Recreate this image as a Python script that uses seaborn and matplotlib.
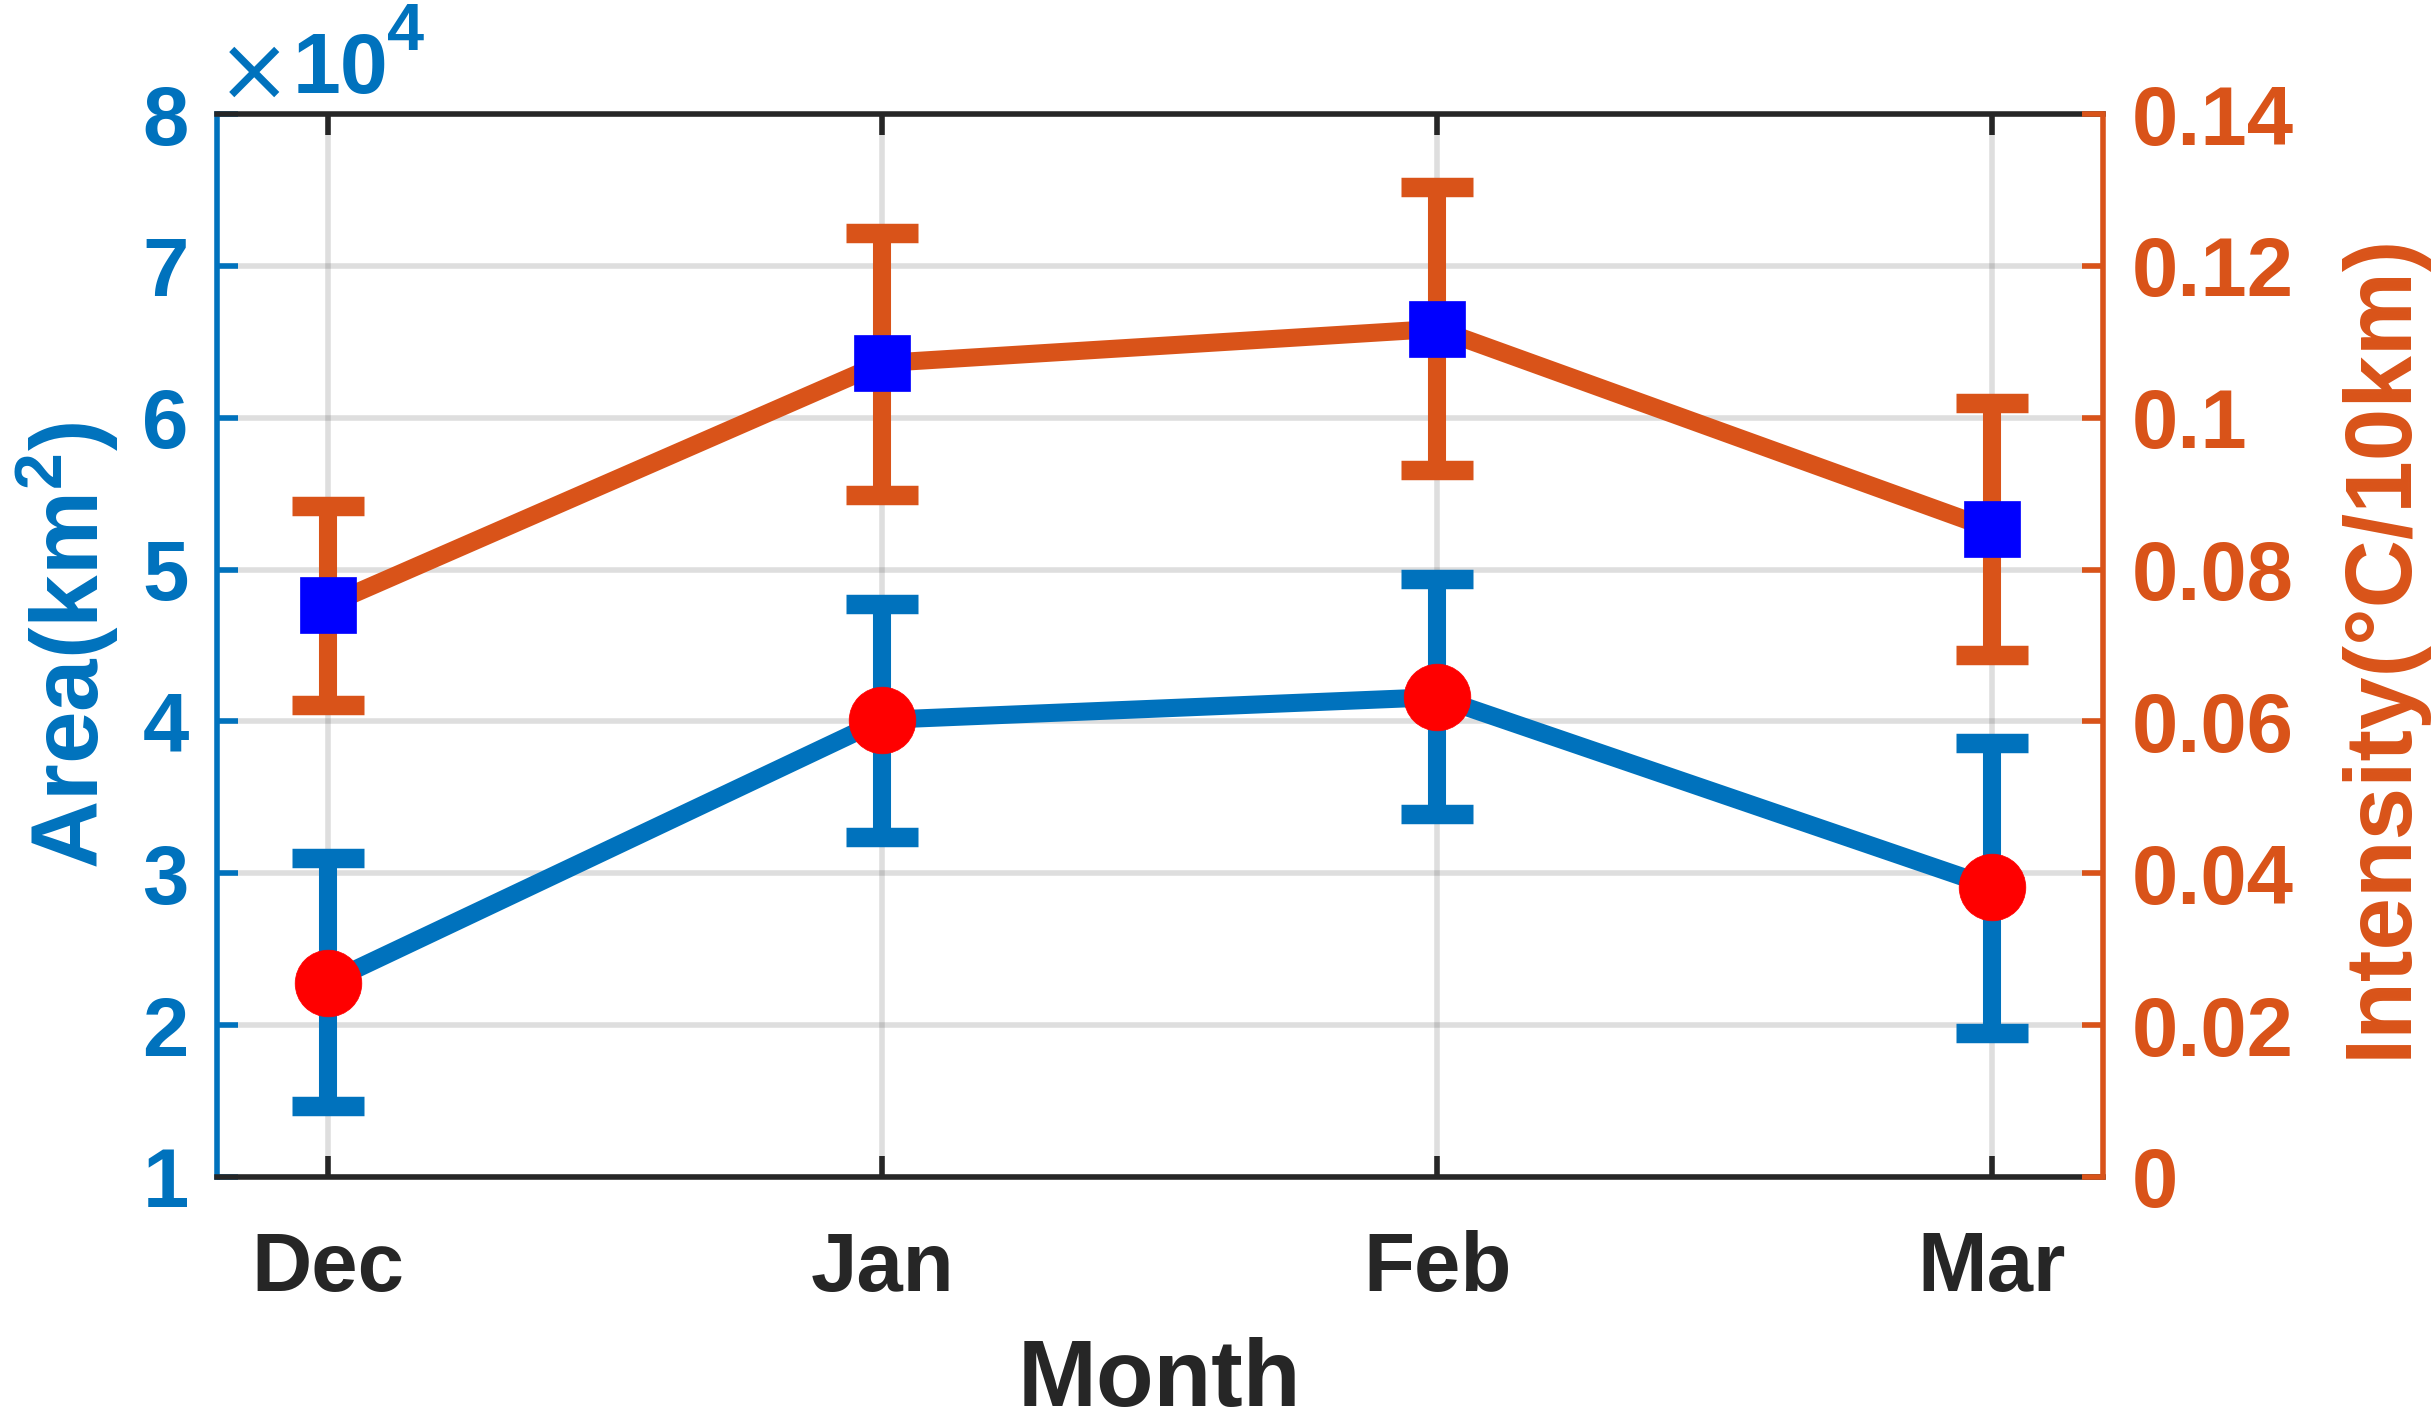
"""
Monthly area / intensity with error bars on twin y axes.
"""

import numpy as np
import matplotlib
matplotlib.use("Agg")
import matplotlib.pyplot as plt
import seaborn as sns
from matplotlib.ticker import FuncFormatter

# data
months = ["Dec", "Jan", "Feb", "Mar"]
area = [22800, 40100, 41600, 29100]          # km^2
area_lo = [14700, 32400, 33900, 19500]
area_hi = [31000, 47700, 49400, 38600]
intensity = [0.0753, 0.1072, 0.1117, 0.0853]  # degC / 10 km
intensity_lo = [0.0622, 0.0898, 0.0931, 0.0688]
intensity_hi = [0.0884, 0.1243, 0.1304, 0.1019]

area_ticks = [10000, 20000, 30000, 40000, 50000, 60000, 70000, 80000]
intensity_ticks = [0, 0.02, 0.04, 0.06, 0.08, 0.10, 0.12, 0.14]

BLUE = "#0072BD"
ORANGE = "#D95319"
DARK = "#262626"

sns.set_theme(style="white")
plt.rcParams["font.family"] = ["Liberation Sans", "DejaVu Sans"]
plt.rcParams["font.weight"] = "bold"
plt.rcParams["mathtext.fontset"] = "custom"
plt.rcParams["mathtext.rm"] = "Liberation Sans"
plt.rcParams["mathtext.bf"] = "Liberation Sans:bold"

TICK_FS = 60
LABEL_FS = 68
LW = 13

x = np.arange(len(months))

fig = plt.figure(figsize=(24.36, 14.18), dpi=100)
ax1 = fig.add_axes([0.0889, 0.1700, 0.7744, 0.7496])
ax2 = ax1.twinx()

# Area (left axis)
area_err = [np.array(area) - np.array(area_lo), np.array(area_hi) - np.array(area)]
ax1.errorbar(x, area, yerr=area_err, fmt="none", ecolor=BLUE, elinewidth=LW,
             capsize=26, capthick=14, zorder=2)
sns.lineplot(x=x, y=area, ax=ax1, color=BLUE, linewidth=LW, marker="o",
             markersize=48, markerfacecolor="#FF0000", markeredgecolor="#FF0000",
             markeredgewidth=0.5, zorder=3)

# Intensity (right axis)
int_err = [np.array(intensity) - np.array(intensity_lo),
           np.array(intensity_hi) - np.array(intensity)]
ax2.errorbar(x, intensity, yerr=int_err, fmt="none", ecolor=ORANGE, elinewidth=LW,
             capsize=26, capthick=14, zorder=2)
sns.lineplot(x=x, y=intensity, ax=ax2, color=ORANGE, linewidth=LW, marker="s",
             markersize=41, markerfacecolor="#0000FF", markeredgecolor="#0000FF",
             markeredgewidth=0.5, zorder=3)

# axes limits and ticks
ax1.set_xlim(-0.2, 3.2)
ax1.set_ylim(10000, 80000)
ax2.set_ylim(0, 0.14)
ax1.set_xticks(x)
ax1.set_xticklabels(months)
ax1.set_yticks(area_ticks)
ax1.yaxis.set_major_formatter(FuncFormatter(lambda v, p: f"{v / 1e4:g}"))
ax2.set_yticks(intensity_ticks)
ax2.yaxis.set_major_formatter(FuncFormatter(lambda v, p: f"{v:g}"))

ax1.grid(True, color=DARK, alpha=0.15, linewidth=4)
ax1.set_axisbelow(True)

ax1.tick_params(axis="x", direction="in", length=15, width=4, colors=DARK,
                labelsize=TICK_FS, pad=38, top=True, bottom=True)
ax1.tick_params(axis="y", direction="in", length=15, width=4, colors=BLUE,
                labelsize=TICK_FS, pad=20)
ax2.tick_params(axis="y", direction="in", length=15, width=4, colors=ORANGE,
                labelsize=TICK_FS, pad=21)
for lab in ax1.get_xticklabels() + ax1.get_yticklabels() + ax2.get_yticklabels():
    lab.set_fontweight("bold")

for side in ["top", "bottom"]:
    ax1.spines[side].set_color(DARK)
    ax1.spines[side].set_linewidth(4)
    ax2.spines[side].set_visible(False)
ax1.spines["left"].set_color(BLUE)
ax1.spines["left"].set_linewidth(4)
ax1.spines["right"].set_visible(False)
ax2.spines["left"].set_visible(False)
ax2.spines["right"].set_color(ORANGE)
ax2.spines["right"].set_linewidth(4)

# labels
ax1.set_xlabel("Month", fontsize=LABEL_FS, fontweight="bold", color=DARK)
ax1.xaxis.set_label_coords(0.5, -0.151)
ax1.set_ylabel("Area(km$^\\mathbf{2}$)", fontsize=LABEL_FS, fontweight="bold", color=BLUE)
ax1.yaxis.set_label_coords(-0.05, 0.5)
ax2.set_ylabel("Intensity(°C/10km)", fontsize=LABEL_FS, fontweight="bold", color=ORANGE)
ax2.yaxis.set_label_coords(1.124, 0.5)

# scale factor on the left axis: thin "x", bold 10, raised 4
ax1.text(0.0200, 1.013, "×", transform=ax1.transAxes, fontsize=64,
         family="DejaVu Sans", fontweight="normal", color=BLUE,
         ha="center", va="baseline")
ax1.text(0.0405, 1.0197, "10", transform=ax1.transAxes, fontsize=62,
         fontweight="bold", color=BLUE, ha="left", va="baseline")
ax1.text(0.0905, 1.0602, "4", transform=ax1.transAxes, fontsize=48,
         fontweight="bold", color=BLUE, ha="left", va="baseline")

plt.savefig("out.png", dpi=100)
plt.close()
